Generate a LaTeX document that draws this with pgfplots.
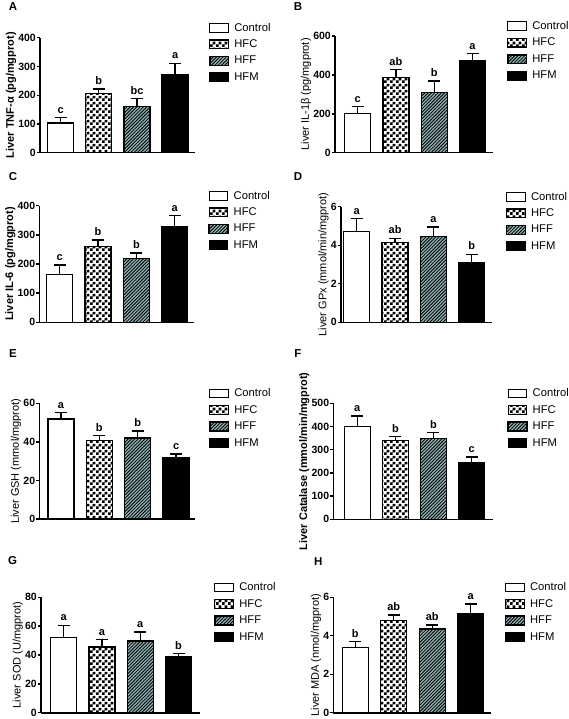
\documentclass[border=0pt]{standalone}
\usepackage{fontspec}
\setmainfont{Liberation Sans}
\usepackage{pgfplots}
\pgfplotsset{compat=1.18}
\usetikzlibrary{patterns}
\definecolor{hffbg}{RGB}{146,178,180}
\pgfdeclarepatternformonly{checks}{\pgfpointorigin}{\pgfqpoint{6pt}{6pt}}{\pgfqpoint{6pt}{6pt}}{%
 \pgfpathrectangle{\pgfpointorigin}{\pgfqpoint{3pt}{3pt}}%
 \pgfpathrectangle{\pgfqpoint{3pt}{3pt}}{\pgfqpoint{3pt}{3pt}}%
 \pgfusepath{fill}}
\pgfdeclarepatternformonly{hatch}{\pgfqpoint{-1pt}{-1pt}}{\pgfqpoint{4.3pt}{4.3pt}}{\pgfqpoint{3.3pt}{3.3pt}}{%
 \pgfsetlinewidth{0.8pt}%
 \pgfpathmoveto{\pgfqpoint{0pt}{0pt}}%
 \pgfpathlineto{\pgfqpoint{3.4pt}{3.4pt}}%
 \pgfusepath{stroke}}
\pgfplotsset{
 panel/.style={
  scale only axis, anchor=south west, clip=false,
  axis x line*=bottom, axis y line*=left,
  axis line style={line width=1.6pt, black},
  xtick=\empty, ymin=0,
  ytick pos=left, tick align=outside, major tick length=3pt,
  every tick/.style={black, line width=1.4pt},
  /pgf/number format/assume math mode=true,
  yticklabel style={font=\bfseries\fontsize{10.5}{12}\selectfont, inner sep=1pt},
  ylabel style={font=\fontsize{11}{13}\selectfont, inner sep=1pt},
  legend entries={Control,HFC,HFF,HFM},
  legend cell align=left,
  legend style={draw=none, fill=none, at={(1,1)}, anchor=north west,
    xshift=14pt, yshift=15pt, inner sep=0pt, row sep=6.6pt,
    font=\fontsize{11.2}{13}\selectfont, nodes={inner sep=0pt},
    /tikz/every odd column/.append style={column sep=5.3pt}},
 },
 mybar/.style={ybar, bar width=26pt, bar shift=0pt, draw=black, line width=1.4pt,
  legend image code/.code={\draw[##1, line width=1.2pt] (0pt,-4.35pt) rectangle (18.7pt,4.35pt);},
  /pgfplots/error bars/y dir=plus, /pgfplots/error bars/y explicit,
  /pgfplots/error bars/error bar style={line width=1.4pt, black},
  /pgfplots/error bars/error mark options={rotate=90, mark size=6pt, line width=1.4pt, black}},
 ctrl/.style={mybar, fill=white},
 hfc/.style={mybar, pattern=checks, pattern color=black},
 hff/.style={mybar, preaction={fill=hffbg}, pattern=hatch, pattern color=black},
 hfm/.style={mybar, fill=black},
 lets/.style={forget plot, draw=none, mark=none, nodes near coords, point meta=explicit symbolic,
  nodes near coords style={anchor=south, inner sep=0pt, yshift=4pt, black,
   font=\bfseries\fontsize{11}{13}\selectfont}},
}
\begin{document}
\begin{tikzpicture}
\useasboundingbox (0pt,0pt) rectangle (569pt,-719pt);
\tikzset{plab/.style={font=\bfseries\fontsize{11.5}{13}\selectfont}}
\node[plab] at (13pt,-7pt) {A};
\node[plab] at (298pt,-7pt) {B};
\node[plab] at (13pt,-176.7pt) {C};
\node[plab] at (298pt,-176.7pt) {D};
\node[plab] at (13pt,-354pt) {E};
\node[plab] at (298pt,-354pt) {F};
\node[plab] at (12.7pt,-560.7pt) {G};
\node[plab] at (318.3pt,-561.7pt) {H};

% A
\begin{axis}[panel, at={(40pt,-152.7pt)}, width=155pt, height=115pt,
  xmin=0.46, xmax=4.52, ymax=400, ytick={0,100,200,300,400},
  ylabel={\bfseries Liver TNF-α (pg/mgprot)}]
\addplot[ctrl] coordinates {(1,103) +- (0,19)};
\addplot[hfc] coordinates {(2,206) +- (0,15)};
\addplot[hff] coordinates {(3,161) +- (0,28)};
\addplot[hfm] coordinates {(4,271) +- (0,40)};
\addplot[lets] coordinates {(1,122)[c] (2,221)[b] (3,189)[bc] (4,311)[a]};
\end{axis}

% B
\begin{axis}[panel, at={(335pt,-152.7pt)}, width=158pt, height=116.7pt,
  xmin=0.41, xmax=4.535, ymax=600, ytick={0,200,400,600},
  ylabel={Liver IL-1β (pg/mgprot)}]
\addplot[ctrl] coordinates {(1,203) +- (0,33)};
\addplot[hfc] coordinates {(2,387) +- (0,41)};
\addplot[hff] coordinates {(3,310) +- (0,58)};
\addplot[hfm] coordinates {(4,471) +- (0,40)};
\addplot[lets] coordinates {(1,236)[c] (2,428)[ab] (3,368)[b] (4,511)[a]};
\end{axis}

% C
\begin{axis}[panel, at={(39.3pt,-322.3pt)}, width=155pt, height=116.6pt,
  xmin=0.47, xmax=4.51, ymax=400, ytick={0,100,200,300,400},
  ylabel={\bfseries Liver IL-6 (pg/mgprot)}]
\addplot[ctrl] coordinates {(1,164) +- (0,32)};
\addplot[hfc] coordinates {(2,261) +- (0,21)};
\addplot[hff] coordinates {(3,218) +- (0,20)};
\addplot[hfm] coordinates {(4,327) +- (0,39)};
\addplot[lets] coordinates {(1,196)[c] (2,282)[b] (3,238)[b] (4,366)[a]};
\end{axis}

% D
\begin{axis}[panel, at={(341pt,-322.3pt)}, width=150.7pt, height=115.6pt,
  xmin=0.59, xmax=4.52, ymax=6, ytick={0,2,4,6},
  ylabel={Liver GPx (mmol/min/mgprot)}]
\addplot[ctrl] coordinates {(1,4.70) +- (0,0.69)};
\addplot[hfc] coordinates {(2,4.15) +- (0,0.21)};
\addplot[hff] coordinates {(3,4.44) +- (0,0.51)};
\addplot[hfm] coordinates {(4,3.10) +- (0,0.43)};
\addplot[lets] coordinates {(1,5.39)[a] (2,4.36)[ab] (3,4.95)[a] (4,3.53)[b]};
\end{axis}

% E
\begin{axis}[panel, at={(39.3pt,-519pt)}, width=155.7pt, height=115.7pt,
  xmin=0.44, xmax=4.49, ymax=60, ytick={0,20,40,60},
  ylabel={Liver GSH (mmol/mgprot)}]
\addplot[ctrl] coordinates {(1,51.9) +- (0,3.3)};
\addplot[hfc] coordinates {(2,40.6) +- (0,2.8)};
\addplot[hff] coordinates {(3,42.0) +- (0,3.6)};
\addplot[hfm] coordinates {(4,31.6) +- (0,2.1)};
\addplot[lets] coordinates {(1,55.2)[a] (2,43.4)[b] (3,45.6)[b] (4,33.7)[c]};
\end{axis}

% F
\begin{axis}[panel, at={(333.3pt,-519.3pt)}, width=160pt, height=116pt,
  xmin=0.37, xmax=4.57, ymax=500, ytick={0,100,200,300,400,500},
  ylabel={\bfseries Liver Catalase (mmol/min/mgprot)}]
\addplot[ctrl] coordinates {(1,400) +- (0,45)};
\addplot[hfc] coordinates {(2,340) +- (0,16)};
\addplot[hff] coordinates {(3,349) +- (0,24)};
\addplot[hfm] coordinates {(4,246) +- (0,23)};
\addplot[lets] coordinates {(1,445)[a] (2,356)[b] (3,373)[b] (4,269)[c]};
\end{axis}

% G
\begin{axis}[panel, at={(41pt,-712.7pt)}, width=159pt, height=115.4pt,
  xmin=0.41, xmax=4.56, ymax=80, ytick={0,20,40,60,80},
  ylabel={Liver SOD (U/mgprot)}]
\addplot[ctrl] coordinates {(1,52.0) +- (0,8.6)};
\addplot[hfc] coordinates {(2,45.5) +- (0,5.1)};
\addplot[hff] coordinates {(3,49.7) +- (0,6.3)};
\addplot[hfm] coordinates {(4,38.6) +- (0,2.3)};
\addplot[lets] coordinates {(1,60.6)[a] (2,50.6)[a] (3,56.0)[a] (4,40.9)[b]};
\end{axis}

% H
\begin{axis}[panel, at={(333.3pt,-712.7pt)}, width=157.4pt, height=115.4pt,
  xmin=0.43, xmax=4.52, ymax=6, ytick={0,2,4,6},
  ylabel={Liver MDA (nmol/mgprot)}]
\addplot[ctrl] coordinates {(1,3.38) +- (0,0.31)};
\addplot[hfc] coordinates {(2,4.80) +- (0,0.28)};
\addplot[hff] coordinates {(3,4.35) +- (0,0.21)};
\addplot[hfm] coordinates {(4,5.17) +- (0,0.48)};
\addplot[lets] coordinates {(1,3.69)[b] (2,5.08)[ab] (3,4.56)[ab] (4,5.65)[a]};
\end{axis}
\end{tikzpicture}
\end{document}
